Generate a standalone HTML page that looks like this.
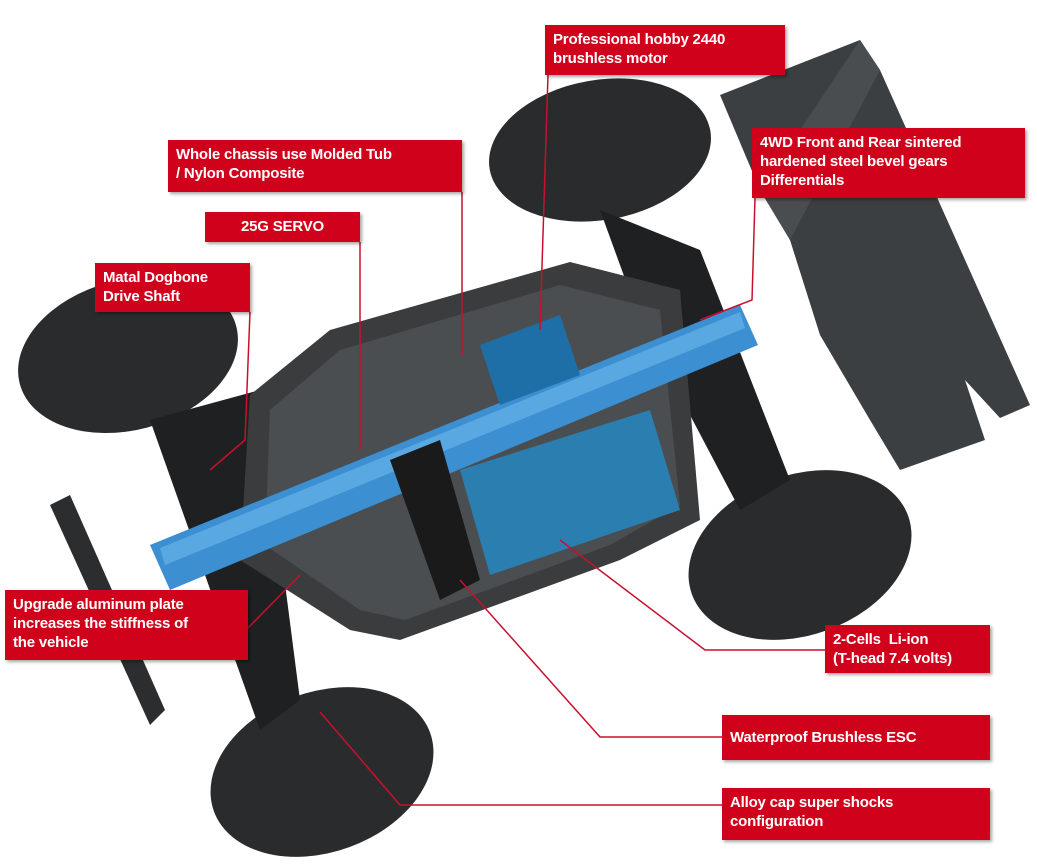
<!DOCTYPE html>
<html><head><meta charset="utf-8"><style>
body{margin:0;width:1037px;height:868px;background:#fff;overflow:hidden;position:relative;font-family:"Liberation Sans",sans-serif}
.l{position:absolute;background:#d0021b;color:#fff;font-weight:bold;font-size:15px;line-height:19px;padding:5px 8px;box-sizing:border-box;box-shadow:2px 2px 3px rgba(0,0,0,.35);letter-spacing:-0.2px}
svg{position:absolute;left:0;top:0}
</style></head><body>
<svg width="1037" height="868">
<!-- wing -->
<polygon points="720,95 860,40 880,70 1030,405 1000,418 965,380 985,440 900,470 870,420 820,335 790,240 760,190" fill="#3c3f42"/>
<polygon points="760,190 860,40 880,70 790,240" fill="#4a4d50"/>
<!-- front bumper -->
<polygon points="50,505 70,495 165,710 150,725" fill="#2b2d2f"/>
<!-- tires -->
<ellipse cx="128" cy="355" rx="112" ry="75" transform="rotate(-15 128 355)" fill="#2a2b2d"/>
<ellipse cx="600" cy="150" rx="112" ry="70" transform="rotate(-10 600 150)" fill="#2a2b2d"/>
<ellipse cx="800" cy="555" rx="115" ry="80" transform="rotate(-20 800 555)" fill="#2a2b2d"/>
<ellipse cx="322" cy="772" rx="115" ry="80" transform="rotate(-20 322 772)" fill="#2a2b2d"/>
<!-- arms -->
<polygon points="150,420 260,390 300,700 260,730" fill="#1f2022"/>
<polygon points="600,210 700,250 790,480 740,510 640,320" fill="#1f2022"/>
<!-- chassis tub -->
<polygon points="250,395 330,330 570,262 680,290 700,520 620,560 400,640 350,630 240,560" fill="#3a3c3e"/>
<polygon points="270,410 340,350 560,285 660,310 680,505 610,545 405,620 360,610 265,545" fill="#4b4e51"/>
<!-- battery -->
<polygon points="460,470 650,410 680,510 490,575" fill="#2a7fb0"/>
<!-- blue plate -->
<polygon points="150,545 740,305 758,345 170,590" fill="#3c8fd0"/>
<polygon points="160,548 740,312 745,328 165,565" fill="#5aa8e2"/>
<!-- motor -->
<polygon points="480,345 560,315 580,375 500,405" fill="#1e6fa8"/>
<!-- wires -->
<polygon points="390,460 440,440 480,580 440,600" fill="#1a1a1a"/>
<!-- red lines -->
<g stroke="#c8102e" stroke-width="1.5" fill="none">
<polyline points="548,75 540,330"/>
<polyline points="462,192 462,355"/>
<polyline points="755,198 752,300 700,320"/>
<polyline points="360,242 360,450"/>
<polyline points="250,312 245,440 210,470"/>
<polyline points="248,628 300,575"/>
<polyline points="830,650 705,650 560,540"/>
<polyline points="725,737 600,737 460,580"/>
<polyline points="725,805 400,805 320,712"/>
</g>
</svg>
<div class="l" style="left:545px;top:25px;width:240px;height:50px">Professional hobby 2440<br>brushless motor</div>
<div class="l" style="left:168px;top:140px;width:294px;height:52px">Whole chassis use Molded Tub<br>/ Nylon Composite</div>
<div class="l" style="left:752px;top:128px;width:273px;height:70px">4WD Front and Rear sintered<br>hardened steel bevel gears<br>Differentials</div>
<div class="l" style="left:205px;top:212px;width:155px;height:30px;text-align:center">25G SERVO</div>
<div class="l" style="left:95px;top:263px;width:155px;height:49px">Matal Dogbone<br>Drive Shaft</div>
<div class="l" style="left:5px;top:590px;width:243px;height:70px">Upgrade aluminum plate<br>increases the stiffness of<br>the vehicle</div>
<div class="l" style="left:825px;top:625px;width:165px;height:48px">2-Cells &nbsp;Li-ion<br>(T-head 7.4 volts)</div>
<div class="l" style="left:722px;top:715px;width:268px;height:45px;padding-top:13px">Waterproof Brushless ESC</div>
<div class="l" style="left:722px;top:788px;width:268px;height:52px">Alloy cap super shocks<br>configuration</div>
</body></html>
